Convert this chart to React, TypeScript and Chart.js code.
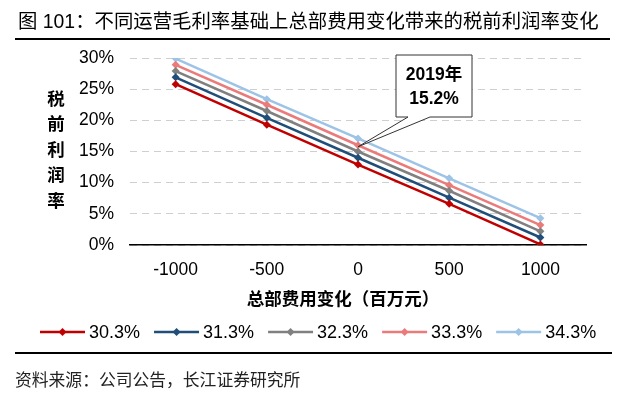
import React, { useEffect, useRef } from "react";
import { Chart, registerables } from "chart.js";

Chart.register(...registerables);

const categories = ["-1000", "-500", "0", "500", "1000"];
const seriesLabels = ["30.3%", "31.3%", "32.3%", "33.3%", "34.3%"];
const margin303 = [25.8, 19.3, 12.9, 6.6, 0.1];
const margin313 = [26.9, 20.4, 14.0, 7.6, 1.2];
const margin323 = [27.9, 21.5, 15.0, 8.7, 2.2];
const margin333 = [28.9, 22.5, 16.0, 9.6, 3.2];
const margin343 = [29.9, 23.4, 17.1, 10.7, 4.3];
const seriesColors = ["#C00000", "#1F4E79", "#808080", "#EB7B7B", "#9DC3E6"];
const yTicks = [0, 5, 10, 15, 20, 25, 30];

const titleText = "图 101：不同运营毛利率基础上总部费用变化带来的税前利润率变化";
const sourceText = "资料来源：公司公告，长江证券研究所";
const xTitle = "总部费用变化（百万元）";
const yTitle = ["税", "前", "利", "润", "率"];
const noteLines = ["2019年", "15.2%"];

const FONT = '"Liberation Sans", Arial, "Noto Sans CJK SC", sans-serif';

function drawDiamond(ctx: CanvasRenderingContext2D, x: number, y: number, r: number, color: string) {
  ctx.beginPath();
  ctx.moveTo(x, y - r);
  ctx.lineTo(x + r, y);
  ctx.lineTo(x, y + r);
  ctx.lineTo(x - r, y);
  ctx.closePath();
  ctx.fillStyle = color;
  ctx.fill();
}

const decorPlugin = {
  id: "decor",
  afterDraw(chart: any) {
    const ctx: CanvasRenderingContext2D = chart.ctx;
    const xs = chart.scales.x;
    const ys = chart.scales.y;
    ctx.save();

    // Title
    ctx.fillStyle = "#000";
    ctx.font = `19.4px ${FONT}`;
    ctx.textAlign = "left";
    ctx.textBaseline = "middle";
    ctx.fillText(titleText, 18, 23);
    ctx.fillStyle = "#000";
    ctx.fillRect(15, 38, 595, 2);

    // Y title (stacked)
    ctx.font = `bold 17.5px ${FONT}`;
    ctx.textAlign = "center";
    yTitle.forEach((ch, i) => {
      ctx.fillText(ch, 56, 100 + i * 25.5);
    });

    // X title
    ctx.fillText(xTitle, 343, 300);

    // Legend
    ctx.font = `18px ${FONT}`;
    ctx.textAlign = "left";
    let lx = 40;
    const ly = 332;
    seriesLabels.forEach((lab, i) => {
      ctx.strokeStyle = seriesColors[i];
      ctx.lineWidth = 2.5;
      ctx.beginPath();
      ctx.moveTo(lx, ly);
      ctx.lineTo(lx + 45, ly);
      ctx.stroke();
      drawDiamond(ctx, lx + 22.5, ly, 4, seriesColors[i]);
      ctx.fillStyle = "#000";
      ctx.fillText(lab, lx + 49, ly + 1);
      lx += 49 + ctx.measureText(lab).width + 14;
    });

    // Separator and source
    ctx.fillStyle = "#000";
    ctx.fillRect(15, 352, 597, 2);
    ctx.fillStyle = "#222";
    ctx.font = `16.8px ${FONT}`;
    ctx.fillText(sourceText, 15, 381);

    // Annotation callout
    const tipX = xs.getPixelForValue(2);
    const tipY = ys.getPixelForValue(margin333[2]) + 1.5;
    const bl = 396, br = 472, bt = 55, bb = 117;
    ctx.beginPath();
    ctx.moveTo(bl, bt);
    ctx.lineTo(br, bt);
    ctx.lineTo(br, bb);
    ctx.lineTo(430, bb);
    ctx.lineTo(tipX, tipY);
    ctx.lineTo(408, bb);
    ctx.lineTo(bl, bb);
    ctx.closePath();
    ctx.fillStyle = "#fff";
    ctx.fill();
    ctx.strokeStyle = "#333";
    ctx.lineWidth = 1;
    ctx.stroke();
    ctx.fillStyle = "#000";
    ctx.font = `bold 17.5px ${FONT}`;
    ctx.textAlign = "center";
    ctx.fillText(noteLines[0], (bl + br) / 2, 75);
    ctx.fillText(noteLines[1], (bl + br) / 2, 99);

    ctx.restore();
  },
};

export default function App() {
  const ref = useRef<HTMLCanvasElement | null>(null);
  useEffect(() => {
    document.body.style.margin = "0";
    const canvas = ref.current!;
    const data = [margin303, margin313, margin323, margin333, margin343];
    const chart = new Chart(canvas, {
      type: "line",
      data: {
        labels: categories,
        datasets: data.map((d, i) => ({
          label: seriesLabels[i],
          data: d,
          borderColor: seriesColors[i],
          backgroundColor: seriesColors[i],
          borderWidth: 2.5,
          pointStyle: "rectRot",
          pointRadius: 4,
          pointBorderWidth: 0,
          tension: 0,
        })),
      },
      options: {
        animation: false,
        responsive: false,
        devicePixelRatio: 1,
        layout: { padding: { top: 58, right: 37, left: 0, bottom: 0 } },
        plugins: { legend: { display: false }, tooltip: { enabled: false }, title: { display: false } },
        scales: {
          x: {
            type: "category",
            offset: true,
            grid: { display: false, drawTicks: false },
            border: { display: true, color: "#000", width: 1.5 },
            ticks: { color: "#000", padding: 15, font: { family: FONT, size: 17.5 } },
            afterFit: (s: any) => { s.height = 150; },
          },
          y: {
            min: 0,
            max: 30,
            afterBuildTicks: (s: any) => { s.ticks = yTicks.map((v) => ({ value: v })); },
            grid: { color: "#cfcfcf", lineWidth: 1, drawTicks: false },
            border: { display: true, color: "rgba(0,0,0,0)", width: 0, dash: [7, 5] },
            ticks: {
              color: "#000",
              padding: 16,
              font: { family: FONT, size: 17.5 },
              callback: (v: any) => v + "%",
            },
            afterFit: (s: any) => { s.width = 130; },
          },
        },
      } as any,
      plugins: [decorPlugin],
    });
    return () => chart.destroy();
  }, []);
  return (
    <div style={{ position: "absolute", left: 0, top: 0, width: 623, height: 395, background: "#fff" }}>
      <canvas ref={ref} width={623} height={395} style={{ width: 623, height: 395 }} />
    </div>
  );
}
